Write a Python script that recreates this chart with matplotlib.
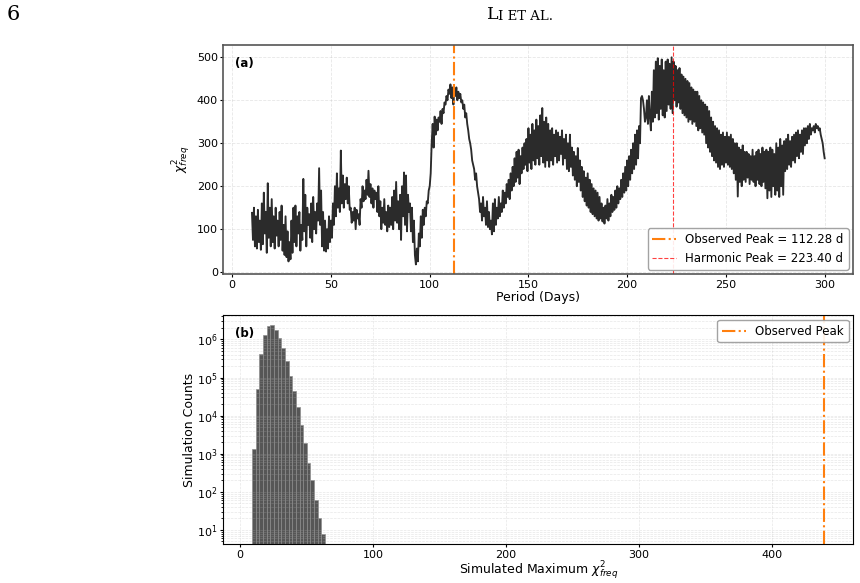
import matplotlib.pyplot as plt
import numpy as np

# ---- panel (a): chi^2_freq periodogram, one value every 0.5 d from 10 to 300 d
period_start, period_stop, period_step = 10.0, 300.0, 0.5
chi2_freq = [
    138, 75, 150, 60, 130, 55, 145, 70, 120, 52, 160, 65, 185, 90, 140, 45, 207, 80, 150, 60,   # 10-20
    170, 70, 130, 55, 150, 85, 120, 60, 140, 75, 155, 50, 110, 40, 130, 35, 95, 25, 70, 30,     # 20-30
    120, 45, 150, 70, 155, 60, 130, 90, 140, 50, 110, 75, 217, 95, 180, 60, 150, 110, 135, 80,  # 30-40
    160, 70, 175, 100, 140, 90, 160, 120, 242, 110, 190, 60, 140, 50, 120, 48, 100, 55, 130, 70,  # 40-50
    120, 80, 160, 110, 200, 130, 230, 150, 195, 140, 283, 160, 225, 150, 205, 170, 220, 160, 200, 145,  # 50-60
    150, 115, 140, 120, 150, 100, 145, 125, 135, 110, 170, 150, 200, 165, 190, 170, 215, 180, 236, 175,  # 60-70
    205, 160, 195, 150, 190, 170, 185, 140, 200, 130, 165, 100, 150, 115, 170, 110, 140, 95, 155, 105,  # 70-80
    150, 110, 175, 100, 190, 120, 210, 115, 165, 100, 180, 75, 200, 130, 232, 110, 225, 95, 180, 140,  # 80-90
    160, 95, 150, 70, 120, 40, 18, 55, 25, 90, 60, 130, 80, 145, 110, 150, 130, 165, 160, 190,  # 90-100
    200, 230, 300, 345, 290, 362, 320, 355, 330, 360, 350, 375, 345, 380, 370, 395, 390, 410, 400, 425,  # 100-110
    415, 437, 405, 430, 390, 425, 410, 430, 400, 420, 405, 415, 395, 400, 380, 390, 360, 370, 345, 330,  # 110-120
    310, 300, 285, 260, 250, 240, 215, 230, 200, 185, 170, 140, 160, 120, 175, 130, 150, 110, 165, 105,  # 120-130
    140, 100, 120, 88, 160, 95, 170, 110, 150, 125, 175, 130, 160, 140, 190, 150, 185, 160, 205, 175,  # 130-140
    215, 170, 230, 190, 245, 200, 265, 210, 280, 220, 285, 205, 270, 230, 290, 240, 300, 250, 310, 235,  # 140-150
    335, 255, 320, 240, 345, 260, 330, 250, 355, 265, 340, 250, 365, 270, 382, 255, 350, 245, 360, 260,  # 150-160
    345, 245, 330, 260, 335, 250, 320, 270, 330, 255, 325, 260, 315, 275, 330, 250, 310, 265, 320, 240,  # 160-170
    300, 235, 320, 245, 290, 225, 280, 215, 270, 200, 289, 210, 260, 190, 245, 175, 235, 165, 220, 155,  # 170-180
    230, 150, 215, 140, 205, 135, 195, 130, 190, 125, 185, 120, 175, 125, 160, 118, 150, 113, 155, 125,  # 180-190
    170, 120, 160, 130, 180, 140, 175, 145, 190, 150, 200, 160, 195, 170, 215, 175, 230, 185, 245, 190,  # 190-200
    260, 200, 270, 215, 285, 230, 300, 240, 320, 250, 330, 265, 340, 300, 405, 410, 400, 380, 350, 360,  # 200-210
    400, 345, 410, 360, 330, 420, 350, 470, 360, 490, 370, 498, 355, 480, 380, 495, 365, 470, 360, 490,  # 210-220
    375, 495, 390, 485, 380, 500, 370, 490, 400, 480, 385, 470, 395, 475, 380, 460, 370, 455, 365, 450,  # 220-230
    360, 445, 350, 440, 355, 430, 345, 425, 350, 420, 340, 420, 330, 410, 335, 400, 325, 395, 320, 390,  # 230-240
    300, 385, 290, 375, 280, 360, 270, 350, 260, 340, 255, 335, 245, 330, 240, 320, 250, 325, 245, 315,  # 240-250
    255, 325, 250, 315, 245, 320, 240, 310, 230, 300, 215, 300, 176, 290, 210, 285, 200, 295, 215, 280,  # 250-260
    210, 280, 220, 275, 205, 270, 215, 285, 210, 270, 200, 280, 215, 285, 205, 275, 200, 290, 210, 280,  # 260-270
    195, 285, 172, 280, 190, 290, 175, 285, 200, 275, 180, 300, 190, 290, 175, 310, 200, 295, 180, 305,  # 270-280
    235, 310, 240, 320, 250, 305, 245, 315, 260, 320, 255, 325, 270, 330, 265, 320, 280, 330, 275, 335,  # 280-290
    295, 335, 300, 340, 310, 345, 320, 335, 330, 340, 325, 345, 335, 340, 330, 335, 320, 310, 300, 280,  # 290-300
    265,
]
observed_peak = 112.28
harmonic_peak = 223.40

# ---- panel (b): histogram of simulated maximum chi^2_freq
bin_first_edge = 9.0
bin_width = 2.75
sim_counts = [1300, 50000, 420000, 1.3e6, 2.3e6, 2.4e6, 1.8e6, 1.08e6, 5.9e5, 2.7e5,
              1.1e5, 4.4e4, 1.7e4, 5.8e3, 1.9e3, 570, 206, 62, 21, 8]
observed_max_chi2 = 439.0

periods = np.arange(period_start, period_stop + period_step / 2, period_step)
bin_edges = bin_first_edge + bin_width * np.arange(len(sim_counts) + 1)
bin_centers = 0.5 * (bin_edges[:-1] + bin_edges[1:])

orange = '#ff7f0e'

fig = plt.figure(figsize=(8.6, 5.83), dpi=100)

# page header of the paper
fig.text(0.008, 0.975, '6', family='DejaVu Serif', fontsize=15, va='center', ha='left')
fig.text(0.566, 0.975, 'L', family='DejaVu Serif', fontsize=12.5, va='center', ha='left')
fig.text(0.579, 0.972, 'I ET AL.', family='DejaVu Serif', fontsize=9.5, va='center', ha='left')

ax1 = fig.add_axes([0.2597, 0.5295, 0.7325, 0.3928])
ax2 = fig.add_axes([0.2597, 0.0664, 0.7325, 0.3928])

# (a)
ax1.plot(periods, chi2_freq, color='#2b2b2b', lw=1.35)
ax1.axvline(observed_peak, color=orange, ls='-.', lw=1.5,
            label=f'Observed Peak = {observed_peak:.2f} d')
ax1.axvline(harmonic_peak, color='red', ls='--', lw=0.8, alpha=0.75,
            label=f'Harmonic Peak = {harmonic_peak:.2f} d')
ax1.set_xlim(-4.5, 314.5)
ax1.set_ylim(-5, 528)
ax1.set_xlabel('Period (Days)', fontsize=9, labelpad=1)
ax1.set_ylabel(r'$\chi^2_{freq}$', fontsize=9, labelpad=2.5)
ax1.grid(True, ls='--', lw=0.6, alpha=0.3)
ax1.tick_params(labelsize=8, length=2.5, pad=1.5)
for s in ax1.spines.values():
    s.set_color('#555555')
    s.set_linewidth(1.2)
ax1.text(0.018, 0.95, '(a)', transform=ax1.transAxes, fontsize=8.5, fontweight='bold', va='top')
ax1.legend(loc='lower right', fontsize=8.5, framealpha=0.9, edgecolor='#999999',
           borderaxespad=0.4)

# (b)
ax2.hist(bin_centers, bins=bin_edges, weights=sim_counts, log=True,
         color='#4d4d4d', edgecolor='#8c8c8c', lw=0.5, alpha=0.95)
ax2.axvline(observed_max_chi2, color=orange, ls='-.', lw=1.5, label='Observed Peak')
ax2.set_xlim(-12.5, 461)
ax2.set_ylim(4.2, 4.3e6)
ax2.set_xlabel(r'Simulated Maximum $\chi^2_{freq}$', fontsize=9, labelpad=0)
ax2.set_ylabel('Simulation Counts', fontsize=9, labelpad=1)
ax2.grid(True, which='both', ls='--', lw=0.5, alpha=0.3)
ax2.tick_params(labelsize=8, length=2.5, pad=1.5)
ax2.tick_params(which='minor', length=1.5)
ax2.text(0.018, 0.95, '(b)', transform=ax2.transAxes, fontsize=8.5, fontweight='bold', va='top')
ax2.legend(loc='upper right', fontsize=8.5, framealpha=0.9, edgecolor='#999999',
           borderaxespad=0.4)

fig.savefig('out.png', dpi=100)
